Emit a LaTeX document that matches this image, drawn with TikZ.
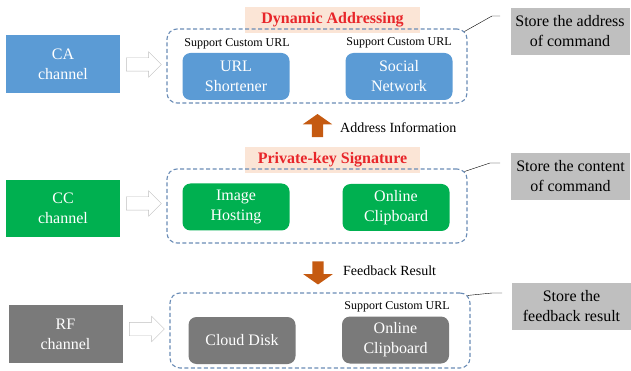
\documentclass[tikz,border=0pt]{standalone}
\usepackage{fontspec}
\setmainfont{Liberation Serif}
\usetikzlibrary{calc,shapes.arrows}
\definecolor{caBlue}{HTML}{5B9BD5}
\definecolor{ccGreen}{HTML}{00B050}
\definecolor{rfGray}{HTML}{7A7A7A}
\definecolor{noteGray}{HTML}{BFBFBF}
\definecolor{tagPeach}{HTML}{FBE5D6}
\definecolor{tagRed}{HTML}{E8262A}
\definecolor{flowOrange}{HTML}{C55A11}
\definecolor{groupLine}{HTML}{6A8CB6}
\tikzset{
channel box/.style={rectangle,inner sep=0pt,align=center,text=white,minimum width=114pt,minimum height=58pt},
service box/.style={rectangle,rounded corners=8pt,inner sep=0pt,align=center,text=white,minimum width=107pt,minimum height=47pt},
group box/.style={rectangle,rounded corners=10pt,draw=groupLine,dash pattern=on 4pt off 2.5pt,line width=1.1pt,minimum width=300pt,minimum height=74pt},
note box/.style={rectangle,fill=noteGray,inner sep=0pt,align=center,minimum width=119pt,minimum height=47pt},
title tag/.style={rectangle,fill=tagPeach,inner sep=0pt,text=tagRed,font=\fontsize{16}{20}\selectfont\bfseries,minimum width=175pt,minimum height=26pt},
hollow arrow/.style={single arrow,draw=black!25,fill=white,inner sep=0pt,inner ysep=6.5pt,minimum height=35pt,minimum width=25pt,single arrow head extend=6pt},
flow arrow/.style={single arrow,fill=flowOrange,inner sep=5.5pt,minimum height=23pt,minimum width=29pt,single arrow head extend=9pt,single arrow tip angle=110},
small label/.style={font=\fontsize{12}{14}\selectfont,inner sep=0pt},
callout/.style={thin}}

\begin{document}
\begin{tikzpicture}[x=1pt,y=-1pt,font=\fontsize{16}{20}\selectfont]

\useasboundingbox (0,0) rectangle (631,371);

\node[channel box,fill=caBlue] (ca) at (63,64) {CA\\channel};
\node[hollow arrow] (caArrow) at (140.5,64.5) {};
\node[title tag] (caTag) at (332.5,20) {Dynamic Addressing};
\node[group box] (caGroup) at (317,66) {};
\node[small label] (caSup1) at (237,44) {Support Custom URL};
\node[small label] (caSup2) at (399,43) {Support Custom URL};
\node[service box,fill=caBlue] (shortener) at (236,76.5) {URL\\Shortener};
\node[service box,fill=caBlue] (social) at (399,76.5) {Social\\Network};
\node[note box] (caNote) at (570,31.5) {Store the address\\of command};
\coordinate (caKnee) at (492,16);
\coordinate (caEnd) at (500,16);
\draw[callout] ([shift={(-3,3)}]caGroup.north east) -- (caKnee) -- (caEnd);

\node[flow arrow,shape border rotate=90] (upFlow) at (317.5,127.5) {};
\node[font=\fontsize{14}{16}\selectfont,anchor=west,inner sep=0pt] (upLabel) at (340,128) {Address Information};

\node[channel box,fill=ccGreen,minimum height=57pt] (cc) at (63,208.5) {CC\\channel};
\node[hollow arrow] (ccArrow) at (140.5,203.5) {};
\node[title tag] (ccTag) at (332.5,160) {Private-key Signature};
\node[group box] (ccGroup) at (317,206) {};
\node[service box,fill=ccGreen] (hosting) at (236,207) {Image\\Hosting};
\node[service box,fill=ccGreen] (ccClip) at (396,207.5) {Online\\Clipboard};
\node[note box] (ccNote) at (570.5,176.5) {Store the content\\of command};
\coordinate (ccKnee) at (490,163);
\coordinate (ccEnd) at (500,163);
\draw[callout] ([shift={(-3,3)}]ccGroup.north east) -- (ccKnee) -- (ccEnd);

\node[flow arrow,shape border rotate=270] (downFlow) at (318,271) {};
\node[font=\fontsize{14}{16}\selectfont,anchor=west,inner sep=0pt] (downLabel) at (343,271) {Feedback Result};

\node[channel box,fill=rfGray] (rf) at (65.5,334) {RF\\channel};
\node[hollow arrow] (rfArrow) at (143.5,329) {};
\node[group box,minimum height=75pt] (rfGroup) at (320,330.5) {};
\node[small label] (rfSup) at (397,307) {Support Custom URL};
\node[service box,fill=rfGray] (disk) at (242,340.5) {Cloud Disk};
\node[service box,fill=rfGray] (rfClip) at (395.5,340) {Online\\Clipboard};
\node[note box] (rfNote) at (571.5,306.5) {Store the\\feedback result};
\coordinate (rfKnee) at (492,293);
\coordinate (rfEnd) at (502,293);
\draw[callout] ([shift={(-3,3)}]rfGroup.north east) -- (rfKnee) -- (rfEnd);
\end{tikzpicture}
\end{document}
